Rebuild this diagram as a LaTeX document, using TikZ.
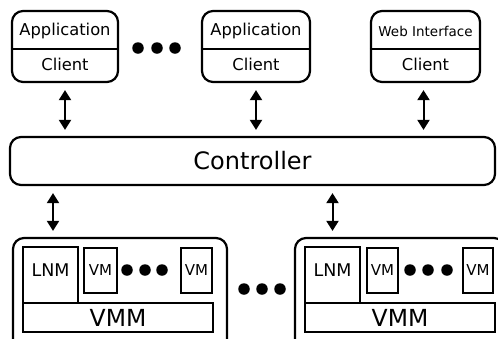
\documentclass[tikz,border=0pt]{standalone}
\usepackage{fontspec}
\setmainfont{DejaVu Sans}
\usetikzlibrary{arrows.meta}

\tikzset{
  roundbox/.style={draw,line width=2.2pt,rounded corners=11pt,inner sep=0pt},
  sqbox/.style={draw,line width=1.9pt,inner sep=0pt},
  dot/.style={circle,fill,inner sep=0pt,minimum size=11.5pt},
  link/.style={line width=2pt,{Triangle[width=12pt,length=10pt]}-{Triangle[width=12pt,length=10pt]},shorten <=7pt,shorten >=6pt},
  fs/.style={font=\fontsize{#1}{#1}\selectfont}
}

\begin{document}
\begin{tikzpicture}[x=1pt,y=-1pt]
\useasboundingbox (0,0) rectangle (498,338);
\clip (0,0) rectangle (498,338);
% clients
\node[roundbox,minimum width=106,minimum height=71] (app1) at (65,46.5) {};
\node[roundbox,minimum width=108,minimum height=71] (app2) at (256,46.5) {};
\node[roundbox,minimum width=109,minimum height=71] (web) at (425.5,46.5) {};
\foreach \c in {app1,app2,web}
  \draw[line width=1.9pt] (\c.west |- 0,49) -- (\c.east |- 0,49);
\node[fs=16.3] (app1t) at (65,31) {Application};
\node[fs=16.3] (app1c) at (65,64) {Client};
\node[fs=16.3] (app2t) at (256,31) {Application};
\node[fs=16.3] (app2c) at (256,64) {Client};
\node[fs=13.5] (webt) at (425.5,31) {Web Interface};
\node[fs=16.3] (webc) at (425.5,64) {Client};
\foreach \x in {138,157,175}
  \node[dot] (cd\x) at (\x,48) {};
% controller
\node[roundbox,minimum width=485,minimum height=48,fs=24] (ctrl) at (252.5,161) {Controller};
\draw[link] (app1.south) -- (app1.south |- ctrl.north);
\draw[link] (app2.south) -- (app2.south |- ctrl.north);
\draw[link] (web.south) ++(-2,0) coordinate (webarr) -- (webarr |- ctrl.north);
% hosts
\node[roundbox,minimum width=214,minimum height=122] (host1) at (120,299) {};
\node[roundbox,minimum width=210,minimum height=122] (host2) at (400,299) {};
\node[sqbox,minimum width=55,minimum height=56] (lnm1) at (50.5,275) {};
\node[fs=17.5] (lnm1t) at (50.5,270) {LNM};
\node[sqbox,minimum width=33,minimum height=45,fs=15] (vm1a) at (100.5,270.5) {VM};
\node[sqbox,minimum width=31,minimum height=45,fs=15] (vm1b) at (196.5,270.5) {VM};
\node[sqbox,minimum width=190,minimum height=29,fs=23.5] (vmm1) at (118,317.5) {VMM};
\foreach \x in {127,145,162}
  \node[dot] (hd\x) at (\x,270) {};
\node[sqbox,minimum width=55,minimum height=56] (lnm2) at (332.5,275) {};
\node[fs=17.5] (lnm2t) at (332.5,270) {LNM};
\node[sqbox,minimum width=31,minimum height=45,fs=15] (vm2a) at (382.5,270.5) {VM};
\node[sqbox,minimum width=30,minimum height=45,fs=15] (vm2b) at (478,270.5) {VM};
\node[sqbox,minimum width=190,minimum height=29,fs=23.5] (vmm2) at (400,317.5) {VMM};
\foreach \x in {410,428,447}
  \node[dot] (ld\x) at (\x,270) {};
\foreach \x in {244,262,280}
  \node[dot] (md\x) at (\x,289) {};
\draw[link] ([xshift=2.5pt]lnm1.north |- ctrl.south) -- ([xshift=2.5pt]lnm1.north |- host1.north);
\draw[link] (lnm2 |- ctrl.south) -- (lnm2 |- host2.north);
\end{tikzpicture}
\end{document}
